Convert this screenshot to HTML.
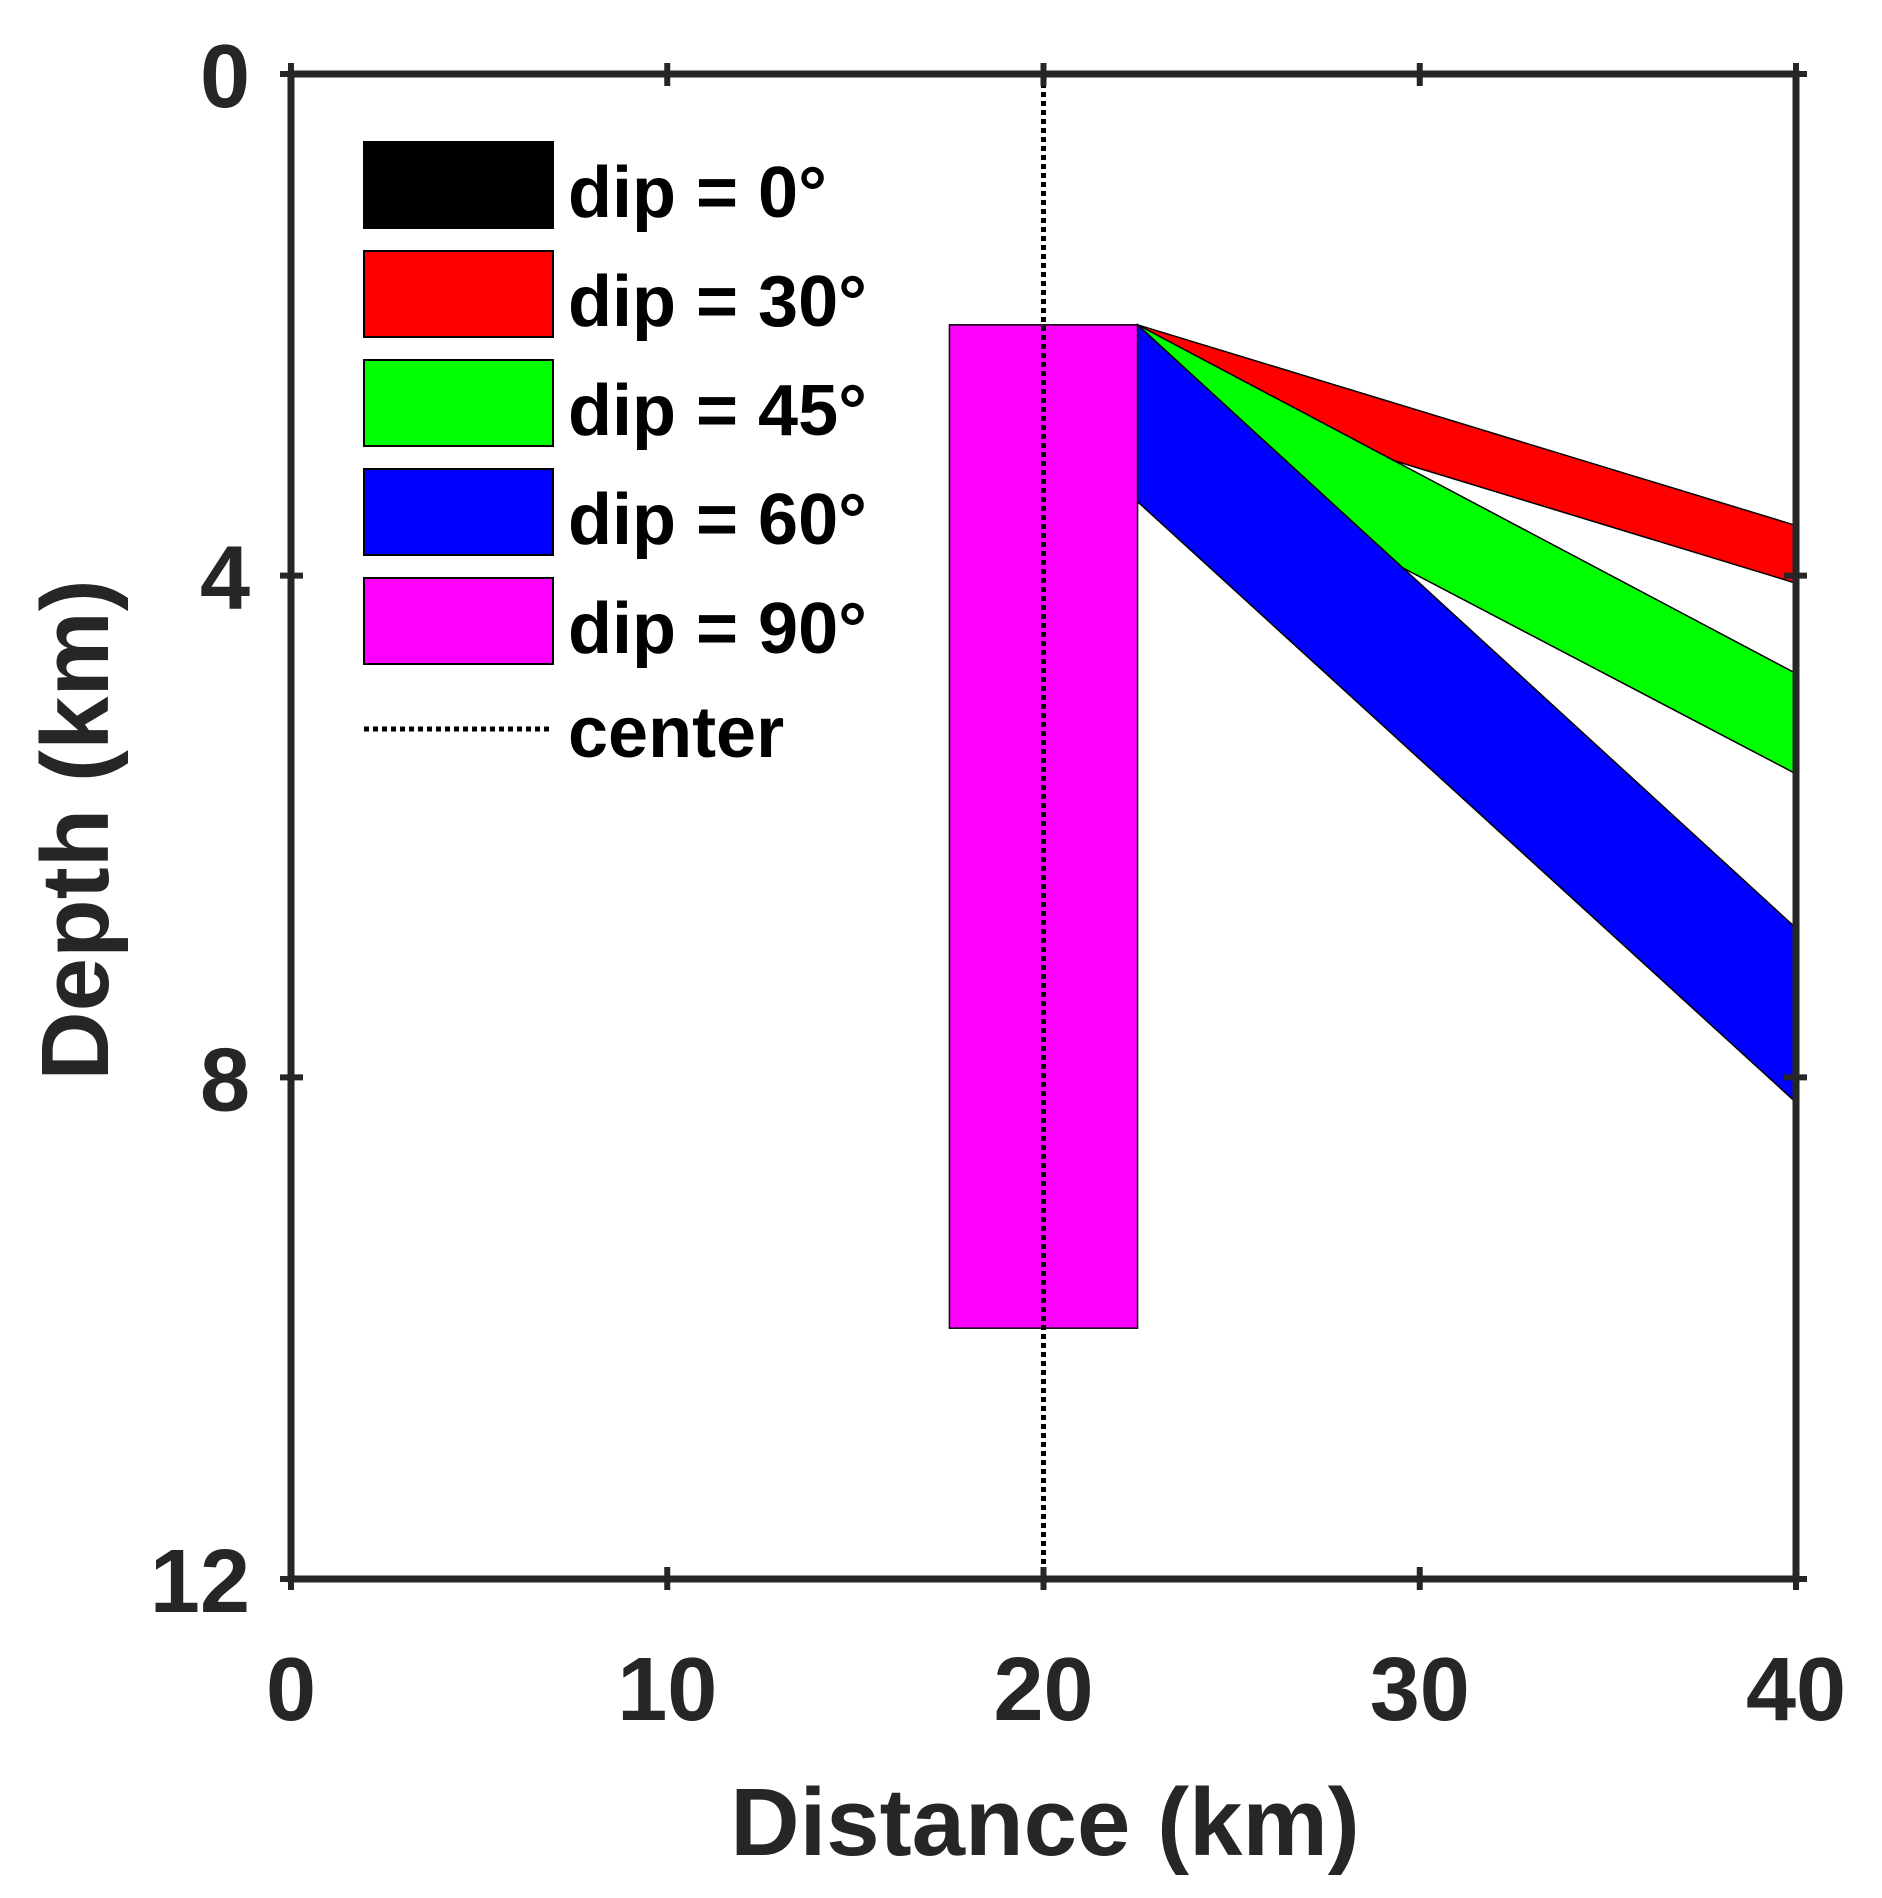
<!DOCTYPE html>
<html><head><meta charset="utf-8"><style>
html,body{margin:0;padding:0;background:#fff;}
svg{display:block;}
text{font-family:"Liberation Sans",sans-serif;fill:#262626;}
</style></head><body>
<svg id="chart" width="1882" height="1898" viewBox="0 0 1882 1898" xmlns="http://www.w3.org/2000/svg">
<g id="marks"></g>
<g id="frame"></g>
<g id="legend"></g>
<text x="1045" y="1855" text-anchor="middle" font-size="96" font-weight="bold">Distance (km)</text>
<text transform="translate(108,830) rotate(-90)" text-anchor="middle" font-size="96" font-weight="bold">Depth (km)</text>
</svg>
<script>
const xTicks = [0, 10, 20, 30, 40];
const yTicks = [0, 4, 8, 12];
const dipLabels = ["dip = 0°", "dip = 30°", "dip = 45°", "dip = 60°", "dip = 90°"];
const dipColors = ["#000000", "#ff0000", "#00ff00", "#0000ff", "#ff00ff"];
const faultTopX = 22.5;
const faultTopDepth = 2;
const dippingRightTop = [3.6, 4.78, 6.81];
const dippingLeftBottom = [2.46, 2.83, 3.41];
const dippingRightBottom = [4.06, 5.58, 8.2];
const dippingColors = ["#ff0000", "#00ff00", "#0000ff"];
const dippingNames = ["fault-dip-30", "fault-dip-45", "fault-dip-60"];
const verticalX = [17.5, 22.5];
const verticalDepth = [2, 10];
const centerX = 20;

const L = 291, R = 1796, T = 74, B = 1579;
const X = v => L + (v - 0) / 40 * (R - L);
const Y = v => T + (v - 0) / 12 * (B - T);
const NS = "http://www.w3.org/2000/svg";
function mk(tag, parent, attrs) {
  const e = document.createElementNS(NS, tag);
  for (const k in attrs) e.setAttribute(k, attrs[k]);
  parent.appendChild(e);
  return e;
}
const marks = document.getElementById('marks');
dippingRightTop.forEach((d, i) => {
  const p = mk('polygon', marks, {
    points: `${X(faultTopX)},${Y(faultTopDepth)} ${X(40)},${Y(d)} ${X(40)},${Y(dippingRightBottom[i])} ${X(faultTopX)},${Y(dippingLeftBottom[i])}`,
    fill: dippingColors[i], stroke: '#000', 'stroke-width': 1.5
  });
  
  
});
const vr = mk('rect', marks, {
  x: X(verticalX[0]), y: Y(verticalDepth[0]),
  width: X(verticalX[1]) - X(verticalX[0]), height: Y(verticalDepth[1]) - Y(verticalDepth[0]),
  fill: '#ff00ff', stroke: '#000', 'stroke-width': 1.5
});


const cl = mk('line', marks, {x1: X(centerX), x2: X(centerX), y1: T, y2: B, stroke: '#000', 'stroke-width': 5, 'stroke-dasharray': '5 4'});



const frame = document.getElementById('frame');
const fr = mk('rect', frame, {x: L, y: T, width: R - L, height: B - T, fill: 'none', stroke: '#262626', 'stroke-width': 7});


xTicks.forEach(t => {
  const x = X(t);
  mk('line', frame, {x1: x, x2: x, y1: B - 12, y2: B + 11, stroke: '#262626', 'stroke-width': 6});
  mk('line', frame, {x1: x, x2: x, y1: T - 11, y2: T + 12, stroke: '#262626', 'stroke-width': 6});
  const tx = mk('text', frame, {x: x, y: 1720, 'text-anchor': 'middle', 'font-size': 90, 'font-weight': 'bold'});
  tx.textContent = t;
  
  
});
yTicks.forEach(t => {
  const y = Y(t);
  mk('line', frame, {x1: L - 11, x2: L + 12, y1: y, y2: y, stroke: '#262626', 'stroke-width': 6});
  mk('line', frame, {x1: R - 12, x2: R + 11, y1: y, y2: y, stroke: '#262626', 'stroke-width': 6});
  const ty = mk('text', frame, {x: 250, y: y + 33, 'text-anchor': 'end', 'font-size': 90, 'font-weight': 'bold'});
  ty.textContent = t;
  
  
});

const lg = document.getElementById('legend');
dipLabels.forEach((lab, i) => {
  const y0 = 142 + i * 109;
  const r = mk('rect', lg, {x: 364, y: y0, width: 189, height: 86, fill: dipColors[i], stroke: '#000', 'stroke-width': 2});
  
  
  const t = mk('text', lg, {x: 568, y: y0 + 75, 'font-size': 72, 'font-weight': 'bold'});
  t.textContent = lab;
  t.style.fill = '#000';
  
  
});
const ll = mk('line', lg, {x1: 364, x2: 550, y1: 729, y2: 729, stroke: '#000', 'stroke-width': 5, 'stroke-dasharray': '5 4'});


const lt = mk('text', lg, {x: 568, y: 757, 'font-size': 72, 'font-weight': 'bold'});
lt.textContent = 'center';
lt.style.fill = '#000';


</script>
</body></html>
